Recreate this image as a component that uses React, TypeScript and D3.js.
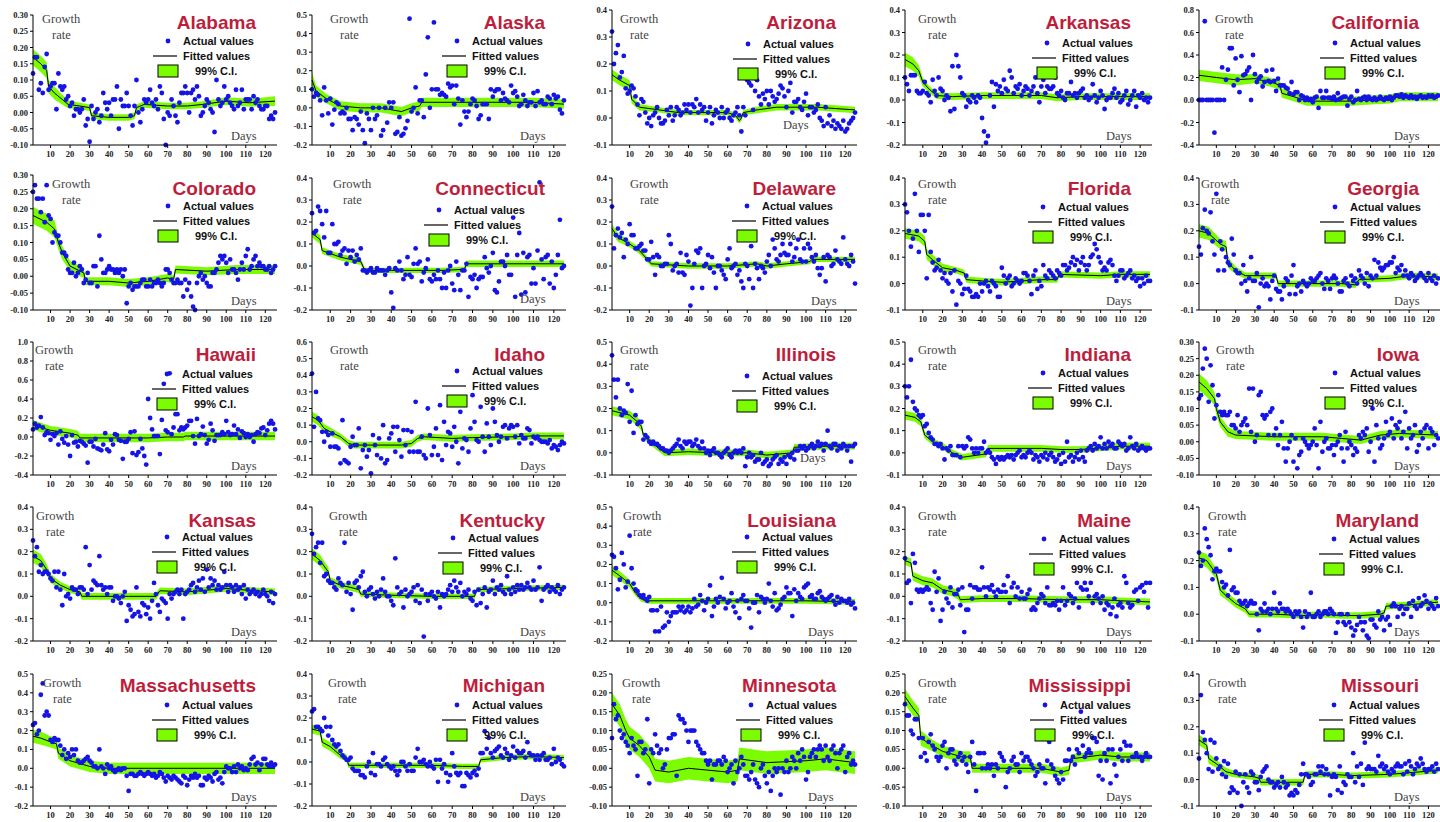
import React from "react";
import * as d3 from "d3";

// growth rate values are stored x100 (percent points), day 1..125
const days = d3.range(1, 126);
const xTicks = [10, 20, 30, 40, 50, 60, 70, 80, 90, 100, 110, 120];

// fitted knots: [day, fitted value, half width of 99% C.I.]  (x100)
type Knot = [number, number, number];

const alabamaActual = [
  12, 17, 17, 7, 9, 6, 14, 18, 7, 8,
  9, 9, 1, 12, 8, 7, 8, 4, 5, 2,
  3, -1, 1, 1, 0, 1, 4, -4, -2, -9,
  2, -2, 0, 1, -3, -1, 6, 3, 1, 3,
  -1, 4, 4, 8, -5, 4, 2, 2, 6, 2,
  -1, -4, 2, 10, 0, -3, 1, 4, 3, 4,
  7, 3, 2, 4, 1, 8, 6, -2, -10, 0,
  -1, 4, 2, -1, -3, 3, 6, 6, 8, 6,
  0, 6, 7, 4, 8, 5, -1, 0, 2, 4,
  3, 1, 0, -6, 10, 4, 2, 3, 8, 4,
  5, 3, 2, 1, 7, 2, 3, 7, 1, 4,
  4, 4, 1, 5, 3, 4, 2, 1, 1, 2,
  2, -2, -1, -2, 0,
];
const alabamaFit: Knot[] = [[1, 17, 2.5], [5, 15, 2.5], [8, 13, 2.5], [9, 8, 2], [12, 6, 2], [16, 4, 1.5], [19, 2.5, 1.2], [25, 2, 1], [30, 1.5, 1], [31, -1, 1], [40, -1.5, 1], [50, -1.5, 1], [53, -1, 1], [54, 1.5, 1], [58, 2.5, 1], [70, 2, 1], [80, 2, 1], [88, 2.5, 1], [100, 3.5, 1.2], [112, 3, 1.2], [125, 3.5, 1.5]];

const alaskaActual = [
  10, 6, 8, 7, 4, -4, 11, 4, -3, 5,
  -9, -1, 3, 2, -3, -2, -3, 0, -6, -6,
  -12, -5, -6, -9, -2, -12, -19, -3, -6, -12,
  0, -6, -4, 0, -15, -12, 0, -8, 3, 0,
  3, -14, -13, -5, -15, -14, -11, -7, 48, -2,
  0, 11, -3, 4, 4, -5, 18, 38, 0, 10,
  46, 10, 10, 7, 8, 7, 6, 13, 11, 12,
  2, 12, 5, -9, 4, -2, -5, -2, 2, 5,
  4, 1, -6, -4, 2, 2, 2, -6, 10, 6,
  9, 10, 10, 4, 8, 5, 4, 3, 12, 8,
  9, 6, 1, 2, 7, 4, 1, 3, 3, 8,
  1, 9, 3, 4, 2, 2, 6, 5, 2, 7,
  5, 6, -1, -3, 4,
];
const alaskaFit: Knot[] = [[1, 15, 4], [3, 9, 3], [8, 5, 2.5], [15, 1, 2.5], [25, 0, 2.5], [35, 0, 2.5], [45, -2, 2.5], [50, 0, 2.5], [54, 1, 2.5], [55, 3, 2.5], [70, 3, 2.5], [90, 3, 2.5], [110, 3, 2.5], [125, 2, 2.5]];

const arizonaActual = [
  32, 20, 24, 27, 15, 17, 23, 11, 9, 10,
  12, 11, 8, 5, 1, 7, 6, 2, -2, 0,
  -3, 1, 2, 4, 0, -2, -2, -1, 3, 1,
  4, -1, 1, 4, 3, 1, 2, 5, 3, 5,
  2, 5, 4, 7, 2, 5, 3, 4, -1, 2,
  4, -2, 1, 3, 2, 0, 4, 0, 2, 3,
  0, -1, 1, 2, 4, 1, -5, 4, 1, 14,
  13, 12, 3, 10, 14, 8, 5, 9, 7, 10,
  5, 10, 8, 6, 7, 9, 12, 11, 8, 4,
  10, 13, 2, 6, 6, 7, 4, 3, 6, 9,
  1, 4, 4, 2, 3, 5, 0, -1, -3, 4,
  -2, 1, -3, -1, -4, -2, -3, -4, -1, -5,
  -4, -2, -1, 0, 2,
];
const arizonaFit: Knot[] = [[1, 16, 2], [5, 14, 2], [10, 12, 2], [11, 7, 1.5], [15, 4, 1.2], [25, 3, 1], [35, 2, 1], [50, 2, 1], [60, 2, 1], [64, 1, 1], [66, -1, 1], [67, 0, 1], [68, 2, 1], [75, 3, 1.2], [85, 4, 1.2], [100, 4, 1.2], [106, 4, 1.2], [115, 3.5, 1.2], [125, 3, 1.2]];

const arkansasActual = [
  10, 7, 4, 11, 11, 11, 4, 3, 3, 4,
  8, 3, 2, -1, 9, 4, 2, 10, 5, 4,
  0, 2, 1, -5, 15, -4, 20, 15, 10, 3,
  2, -3, 0, -1, 2, 1, -1, 2, 1, -8,
  -14, -19, -16, 2, 8, -3, 7, 4, 6, 3,
  9, 5, 4, 13, 10, 3, 6, 5, 7, 2,
  4, 6, 5, 2, 4, 6, 10, 3, -1, 6,
  9, 3, 6, 5, 5, 6, 10, 3, 2, 4,
  1, 0, 3, 3, 8, 2, 3, 1, 3, 4,
  5, 1, 2, 0, 1, 7, 2, -1, 1, 4,
  2, -4, 0, 1, 1, 3, 5, 1, 3, -1,
  0, 2, 4, -2, 0, 2, 4, -3, 2, 1,
  3, 0, 1, -1, 1,
];
const arkansasFit: Knot[] = [[1, 18, 3], [5, 16, 3], [8, 13, 2.5], [10, 8, 2], [13, 5, 1.5], [17, 2, 1.5], [25, 1.5, 1.5], [40, 2, 1.5], [55, 2, 1.5], [70, 2, 1.5], [78, 1, 1.5], [90, 1.5, 1.5], [110, 1.5, 1.5], [125, 1.5, 1.5]];

const californiaActual = [
  0, 0, 0, 70, 0, 0, 0, 0, -29, 0,
  0, 0, 29, 0, 18, 27, 46, 46, 13, 37,
  18, 7, 39, 22, 23, 26, 29, 0, 40, 23,
  16, 19, 21, 12, 16, 26, 17, 16, 27, 17,
  8, 19, 13, 13, 13, 11, 10, 6, 16, 5,
  7, 7, 0, 4, 3, 0, 2, 0, 1, -2,
  2, 3, -7, 8, 2, 2, 8, 2, 2, 1,
  3, 0, 6, 1, 2, 3, 3, -5, 1, 3,
  -2, 0, 8, 1, 0, 2, 3, 0, 3, 1,
  0, 2, 0, 1, 3, 1, 0, 2, 1, 3,
  0, 2, 4, 4, 3, 5, 2, 4, 3, 2,
  4, 2, 3, 1, 3, 4, 2, 3, 2, 4,
  3, 4, 2, 3, 4,
];
const californiaFit: Knot[] = [[1, 22, 5], [10, 20, 5], [20, 18, 5], [30, 19, 4], [40, 15, 4], [43, 13, 4], [44, 6, 4], [50, 3, 4], [57, -1, 4], [70, -1, 4], [80, -1, 4], [90, 0, 4], [100, 1, 4], [105, 3, 4], [125, 3, 4]];

const coloradoActual = [
  25, 27, 23, 23, 19, 23, 16, 27, 18, 17,
  10, 13, 12, 12, 10, 7, 7, 6, 2, 1,
  1, 4, 0, 1, 3, 2, -2, -1, 1, -2,
  -2, 3, 3, -3, 12, 5, 1, 1, 2, 3,
  2, 2, 1, 2, 1, 2, 0, 2, -8, -3,
  -2, -4, -3, -3, -3, -2, -1, -1, -3, -3,
  -1, -3, -2, -2, -1, -2, -3, -2, 2, 2,
  1, -1, -2, -2, -1, -2, -2, -6, -1, -4,
  -2, -6, -9, -10, -2, 0, 1, -1, 0, -2,
  -3, -3, 1, 1, 2, 4, 6, 5, 6, 4,
  1, 5, 2, 2, 1, -1, 2, 4, 2, 6,
  8, 2, 3, 5, 6, 3, 4, 3, 3, 2,
  2, 3, 1, 2, 3,
];
const coloradoFit: Knot[] = [[1, 18, 2.5], [8, 16, 2.5], [12, 14, 2.5], [14, 10, 2], [16, 7, 2], [20, 3, 1.5], [27, 1, 1.5], [28, -1.5, 1.2], [40, -1.5, 1.2], [50, -2, 1.2], [60, -1.5, 1.2], [70, -0.5, 1.2], [73, -1, 1.2], [74, 2, 1.2], [90, 1.5, 1.2], [105, 2, 1.3], [125, 2, 1.3]];

const connecticutActual = [
  24, 15, 16, 27, 25, 19, 13, 25, 6, 6,
  19, 10, 10, 11, 5, 7, 8, 1, 7, 4,
  7, 2, 5, 3, 8, -2, -2, -3, -2, -1,
  -3, -3, -1, -2, -2, -2, -4, -2, -1, -12,
  -19, -1, -2, 2, -2, -6, -4, 4, -4, -5,
  1, 8, 1, 2, -7, -3, -1, 3, -6, -7,
  -4, -6, -2, -6, -10, -3, -10, -2, 0, -8,
  -11, 2, -4, -11, -2, -2, 1, -14, -5, -6,
  -4, -10, -6, -5, -5, 4, -1, -3, 0, 6,
  -11, -12, -7, 2, 2, 0, 5, -4, -4, 22,
  -14, 5, 15, -13, 6, -12, 4, 5, -8, -1,
  -8, 7, 38, 3, -6, 4, 5, -8, 2, -10,
  -4, 5, 21, -1, 0,
];
const connecticutFit: Knot[] = [[1, 15, 2], [5, 12, 2], [6, 7, 1.5], [15, 4, 1.5], [25, 2, 1.5], [27, -2, 1.2], [40, -2, 1.2], [55, -2, 1.2], [65, -2, 1.2], [76, -1.5, 1.2], [77, 1, 1.5], [90, 1, 1.5], [105, 1, 1.5], [125, 1, 1.5]];

const delawareActual = [
  27, 8, 14, 17, 13, 15, 4, 12, 10, 19,
  14, 14, 8, 8, 9, 10, 7, 7, 3, 3,
  11, 4, -4, 5, 4, 0, 0, 1, 1, 14,
  10, -2, 0, 1, -3, 6, -3, -4, 5, 2,
  -18, -10, 1, 7, 6, 8, -10, 0, 1, 5,
  -1, 4, -3, -10, 0, 0, -2, -4, -6, 3,
  8, -1, 0, 1, -4, -2, -7, -10, 1, 0,
  -6, 9, -10, 1, -1, -6, 0, -1, -3, 2,
  5, 0, 12, 8, 3, 2, 5, 10, 6, 5,
  5, 10, 2, 4, 8, 12, 3, 2, 8, 2,
  10, 8, 4, 2, 5, -1, -4, -1, 4, -7,
  5, 4, 0, 1, 7, 3, 2, 1, 13, 3,
  1, 0, 5, 2, -8,
];
const delawareFit: Knot[] = [[1, 17, 2], [4, 13, 2], [10, 10, 1.5], [15, 7, 1.5], [20, 2, 1.2], [21, 1, 1.2], [40, 0, 1.2], [60, 0, 1.2], [75, 1, 1.2], [80, 0, 1.2], [90, 1, 1.2], [102, 2, 1.2], [103, 3, 1.2], [115, 3, 1.2], [125, 3, 1.2]];

const floridaActual = [
  30, 27, 20, 14, 17, 34, 20, 12, 26, 26,
  20, 2, 26, 12, 8, 5, 6, 9, 5, 2,
  4, 1, 0, 4, -3, 5, -8, 1, 0, -4,
  -2, 3, -2, -3, -5, -5, -4, -5, 0, -3,
  0, 1, -1, -3, 1, 0, -1, -5, -5, 6,
  3, 0, 2, 3, -1, 0, 2, 1, 0, 1,
  4, 4, 3, 1, -4, 3, 5, -2, 1, -1,
  7, 3, 2, 5, 4, 3, 2, 5, 4, 3,
  7, 7, 5, 6, 8, 10, 7, 9, 5, 8,
  10, 7, 5, 7, 10, 11, 15, 13, 10, 8,
  5, 6, 5, 8, 9, 7, 3, 1, 3, 5,
  5, 2, 3, 4, 5, 2, 3, 1, 2, -1,
  2, 0, 3, 1, 1,
];
const floridaFit: Knot[] = [[1, 19, 2], [8, 18, 2], [11, 16, 2], [12, 11, 2], [15, 9, 2], [20, 6, 1.5], [27, 5, 1.2], [31, 4, 1.2], [32, 1.5, 1.2], [40, 1, 1.2], [50, 0.5, 1.2], [60, 1, 1.2], [70, 1.5, 1.2], [78, 1.5, 1.2], [79, 3.5, 1.2], [100, 3, 1.2], [110, 3.5, 1.2], [125, 3.5, 1.2]];

const georgiaActual = [
  14, 11, 21, 28, 20, 19, 27, 16, 11, 34,
  5, 16, 13, 5, 10, 8, 7, 17, 11, 5,
  4, 4, 0, 7, 1, -3, 2, 10, 1, 1,
  4, -9, 0, 2, -1, 0, -1, -6, 1, 3,
  -2, -3, -3, -6, -1, 2, 1, -4, 3, 7,
  -4, -1, 0, -3, 1, 0, -1, 0, 2, 1,
  1, 2, 3, 4, 0, -2, 2, 1, -2, 2,
  3, 2, 0, -3, -3, 1, 2, 0, -1, 3,
  1, 2, 0, 5, 3, 2, 0, 4, -1, 3,
  2, 9, 3, 8, 6, 5, 6, 7, 7, 8,
  8, 10, 4, 6, 5, 7, 3, 5, 3, 2,
  4, 3, 1, 2, 3, 4, 3, 2, 1, 4,
  2, 1, 3, 0, 2,
];
const georgiaFit: Knot[] = [[1, 20, 2.5], [6, 19, 2.5], [12, 15, 2], [15, 14, 2], [16, 8, 2], [20, 5, 1.5], [25, 3, 1.2], [35, 3, 1.2], [41, 3, 1.2], [42, 0, 1.2], [60, 0, 1.2], [75, 0, 1.2], [82, -0.5, 1.2], [84, 1.5, 1.2], [100, 2, 1.2], [110, 3, 1.2], [125, 2.5, 1.2]];

const hawaiiActual = [
  8, 14, 10, 12, 21, 10, 2, 5, 4, -3,
  3, 1, 4, -8, 6, -2, -6, 1, -8, -20,
  2, -6, -5, -10, -4, -5, -7, -9, -27, -5,
  -5, -10, -2, -12, -13, -14, -8, 4, -13, -15,
  -3, -8, 3, 2, -3, -4, -23, -5, -5, -2,
  5, -17, 6, -19, -16, -2, -12, -20, -29, 40,
  20, 8, 1, 1, 1, -18, 18, 56, 7, 5,
  67, 3, 10, 24, 24, 7, 10, 8, 10, 12,
  17, 17, 1, -7, 19, 1, 3, 11, 2, -7,
  -3, 14, 7, -4, 2, 2, 2, 5, 3, 17,
  5, 2, 3, 12, 3, 8, -1, 6, 4, 0,
  3, 0, 2, -5, 3, 5, 4, 9, 10, 2,
  7, 14, 17, 14, 8,
];
const hawaiiFit: Knot[] = [[1, 13, 5], [5, 10, 5], [10, 7, 4.5], [20, 4, 4.5], [24, 2, 4.5], [25, -1, 4.5], [40, -1, 4.5], [60, -1, 4.5], [70, 0, 4.5], [78, 0, 4.5], [79, 1, 4.5], [90, 1, 4.5], [110, 1, 4.5], [125, 1, 4.5]];

const idahoActual = [
  41, 9, 30, 14, 13, 6, 0, 6, 4, -3,
  5, -3, -3, -4, -13, 13, -11, -12, -13, -3,
  3, -2, -2, 8, -16, -5, -2, -9, -5, -19,
  4, -2, -8, 2, -10, 10, -13, -11, 2, 5,
  9, -6, 9, 1, -9, 7, -2, 7, -6, 6,
  -6, 24, -6, -6, 3, -8, -10, 20, 4, -8,
  -3, 8, -8, 22, -11, 12, -2, 6, 5, -3,
  9, 0, -13, 18, -4, 2, 1, -6, 8, 28,
  12, 1, 0, 21, 3, -6, 11, 3, -2, 20,
  12, 4, 0, 3, 9, 10, 2, 8, 10, 9,
  3, 10, -1, 4, 2, 2, 8, 7, -1, 3,
  2, 3, 1, 0, 0, 0, -1, 1, -4, -2,
  -3, -5, -2, 0, -1,
];
const idahoFit: Knot[] = [[1, 15, 3], [4, 13, 3], [7, 8, 2.5], [10, 6, 2.5], [15, 3, 2], [19, -1, 2], [22, -2, 2], [35, -2, 2], [45, -2, 2], [50, -1, 2], [53, 2, 2], [56, 3, 2], [70, 2, 2], [80, 2.5, 2], [100, 3, 2], [110, 3.5, 2], [125, 3.5, 2]];

const illinoisActual = [
  44, 33, 25, 33, 20, 17, 19, 18, 31, 14,
  28, 9, 17, 13, 14, 14, 6, 8, 7, 5,
  4, 5, 4, 4, 3, 2, 2, 1, 1, 0,
  1, 2, 3, 4, 6, 3, 2, 5, 4, 5,
  5, 3, 4, 6, 3, 2, 5, 2, 0, 1,
  -1, 1, 2, 0, 0, -1, -2, 0, 1, 2,
  -1, -2, 0, 1, 0, 1, 0, 2, -6, -2,
  0, -2, -1, -4, -3, -3, 0, -5, -4, -3,
  -6, -5, -3, -2, -1, -5, -3, -4, -2, -5,
  -1, -2, 0, -3, 1, 1, 3, 2, 3, 1,
  2, 3, 4, 2, 3, 5, 3, 4, 1, 4,
  10, 3, 2, 4, 4, 1, 3, 2, 4, 3,
  1, 3, -4, 3, 4,
];
const illinoisFit: Knot[] = [[1, 19, 2], [10, 17, 2], [14, 14, 2], [16, 12, 2], [17, 8, 1.5], [22, 4, 1.5], [28, 0, 1.5], [40, 0.5, 1.5], [55, 0, 1.5], [70, 0, 1.5], [80, -1, 1.5], [93, 0, 1.5], [94, 2.5, 1.5], [110, 3, 1.5], [125, 3, 1.5]];

const indianaActual = [
  30, 25, 30, 42, 23, 20, 19, 17, 16, 17,
  12, 13, 9, 7, 6, 4, 4, 3, 4, 2,
  -3, 2, 1, 3, -1, -1, -1, 3, -2, 3,
  2, 3, 7, 6, 2, 0, 2, 0, 2, 2,
  5, 0, 1, 0, -2, -3, -5, -2, -3, -2,
  -3, -2, -1, -2, -1, -3, -1, 0, 1, -2,
  -1, -2, 0, 1, 0, -3, -1, -2, -4, -1,
  -2, 0, -3, -1, 0, -2, -4, -3, -1, -5,
  0, -4, 5, -2, -1, -4, -2, 0, -3, 1,
  -2, -4, 1, 2, 3, 1, 4, 2, 3, 7,
  2, 4, 2, 5, 3, 4, 2, 2, 5, 4,
  3, 4, 1, 2, 7, 3, 2, 4, 1, 2,
  3, 2, 1, 2, 2,
];
const indianaFit: Knot[] = [[1, 17, 2], [6, 16, 2], [9, 14, 2], [11, 8, 1.5], [15, 5, 1.5], [20, 3, 1.5], [25, 0, 1.5], [30, -2, 1.5], [42, -0.5, 1.5], [43, 2, 1.5], [60, 2, 1.5], [70, 2, 1.5], [80, 1.5, 1.5], [90, 1.5, 1.5], [110, 3, 1.5], [125, 3, 1.5]];

const iowaActual = [
  13, 14, 22, 28, 25, 12, 23, 17, 7, 11,
  14, 9, 8, 9, 8, 8, 9, 5, 5, 4,
  8, 3, 5, 6, 7, 5, 16, 3, 16, 0,
  2, 14, 15, 8, 7, 8, 2, 9, 10, 2,
  4, -1, 2, 6, -2, -6, -2, 0, 2, -6,
  1, -8, -4, -3, 1, 0, -1, -2, -1, 0,
  4, -1, -8, 6, -3, 0, 1, -2, -2, -1,
  -4, -1, 0, 2, -2, -6, 3, -2, 0, -1,
  -4, -2, -3, 2, 1, 3, 2, 4, -3, 0,
  10, -6, 5, 1, -2, -1, 1, 6, 2, 3,
  7, 1, 5, 4, 6, 1, 3, 9, -2, 4,
  1, 2, 5, -3, -1, 3, 1, 4, 5, -2,
  4, 3, -1, 2, 1,
];
const iowaFit: Knot[] = [[1, 18, 2.5], [5, 16, 2.5], [9, 13, 2], [10, 10, 2], [12, 6, 1.5], [16, 3, 1.5], [20, 2, 1.2], [40, 1.5, 1.2], [50, 1.5, 1.2], [65, 1.5, 1.2], [75, 1, 1.2], [85, 0.5, 1.2], [95, 2, 1.2], [105, 2.5, 1.2], [125, 2, 1.2]];

const kansasActual = [
  25, 18, 22, 11, 14, 10, 11, 11, 10, 8,
  7, 11, 4, 11, 3, -4, 10, 0, 1, -1,
  4, 3, 3, 1, 4, 4, 3, 22, 1, 14,
  3, 7, 6, 5, 18, 5, 3, 4, 1, 4,
  4, -2, 0, 0, -1, -3, 0, 2, -11, -4,
  -6, -9, -8, 4, -7, -9, -3, -4, -8, -5,
  -10, -2, 6, 1, -4, -7, -1, -2, -3, -10,
  1, -1, 1, 2, 3, 1, 3, -10, 1, 2,
  3, 5, 6, 2, 4, 7, 3, 8, 2, 12,
  4, 8, 5, 7, 3, 5, 3, 4, 11, 5,
  2, 5, 4, 2, 5, 3, 4, 1, 5, -1,
  3, 1, 2, 3, 1, 2, 0, 1, 3, 1,
  0, -2, 2, -3, 1,
];
const kansasFit: Knot[] = [[1, 18, 3], [5, 16, 3], [8, 12, 2.5], [10, 8, 2], [15, 5, 1.5], [20, 3, 1.5], [25, 2, 1.5], [26, 0, 1.5], [35, 0, 1.5], [50, 0, 1.5], [64, 0, 1.5], [66, 2.5, 1.5], [80, 2, 1.5], [100, 3.5, 1.5], [115, 2.5, 1.5], [125, 2, 1.5]];

const kentuckyActual = [
  28, 19, 22, 24, 15, 24, 9, 10, 7, 6,
  6, 4, 3, 8, 6, 5, 24, 2, 6, 1,
  -6, 6, 7, 4, 9, 11, 2, 0, 3, 4,
  1, -1, 2, 0, 3, 8, 2, 0, 0, -2,
  -4, 17, 4, 1, 2, -5, 3, 0, 1, 2,
  4, -2, 5, -3, 3, -18, 1, -2, 1, 2,
  0, -1, 2, -5, 1, 0, 1, 3, 5, 2,
  7, 4, 2, 6, 0, 2, 1, 3, -1, -2,
  2, -4, 3, -3, 1, 4, -5, 2, 3, 7,
  1, 4, 3, 5, 2, 1, 9, 3, 1, 4,
  2, 5, 3, 5, 3, 4, 6, 4, 3, 7,
  3, 4, 13, -2, 3, 4, 5, 2, 4, 3,
  2, 5, 1, 3, 4,
];
const kentuckyFit: Knot[] = [[1, 19, 2.5], [5, 16, 2.5], [9, 11, 2], [10, 7, 1.5], [15, 5, 1.5], [20, 4, 1.5], [24, 3, 1.5], [25, 1, 1.2], [40, 0.5, 1.2], [60, 0, 1.2], [75, 0, 1.2], [81, 0, 1.2], [82, 3, 1.2], [100, 3.5, 1.2], [125, 4, 1.2]];

const louisianaActual = [
  25, 24, 18, 7, 12, 26, 20, 8, 11, 35,
  18, 10, 7, 6, 4, 3, 4, 2, 1, 3,
  -4, -4, -15, -4, -15, -2, -13, -12, -5, -10,
  -7, -5, -5, -5, -2, -4, -2, -5, -4, -2,
  -5, -3, 2, -2, -1, 4, 1, -4, 0, 2,
  9, -7, -2, 2, 0, 3, 13, 2, -3, 0,
  1, 5, -2, -5, 1, -8, 2, 4, 1, 1,
  -3, -13, 0, 0, 4, -5, 3, 2, 0, 2,
  10, 1, -2, 5, -4, -3, -1, 2, 3, 8,
  5, 5, -7, 7, 1, 5, 3, 2, 8, 9,
  10, 3, 4, 2, 2, 5, 6, 3, 2, 1,
  2, 3, 4, 1, -1, 3, 0, 2, 1, 1,
  0, 2, -1, 0, -3,
];
const louisianaFit: Knot[] = [[1, 17, 2.5], [5, 14, 2.5], [10, 10, 2], [13, 5, 1.5], [16, 2, 1.5], [20, 1, 1.5], [40, 1, 1.5], [60, 1, 1.5], [80, 1, 1.5], [100, 1, 1.5], [125, 0.5, 1.5]];

const maineActual = [
  17, 6, 7, -3, 19, 15, 3, 2, 3, 2,
  3, 4, 3, -3, -6, 11, 2, 8, -11, -6,
  2, -1, -3, 4, -5, 1, 1, 3, -4, 4,
  -16, -6, -6, 5, -1, 4, 4, 3, 3, 13,
  4, 0, 4, 3, 5, 2, 0, 3, 2, 2,
  5, 2, 9, -3, 4, 6, 0, 4, -1, 2,
  -1, -1, 1, 3, -6, -5, -6, -3, -1, 1,
  0, -3, 4, -4, -4, -3, -4, -2, -6, -2,
  4, -4, -2, 1, 0, -3, -1, 6, -5, 4,
  3, 6, 3, 0, 6, -3, 0, 1, -1, -3,
  0, -6, -3, -4, -8, -5, -1, -9, -4, -3,
  -5, 9, 6, -3, -5, -4, 2, 3, -2, 4,
  5, 2, 6, -5, 6,
];
const maineFit: Knot[] = [[1, 16, 2], [4, 15, 2], [5, 9, 2], [10, 7, 2], [15, 6, 2], [20, 3, 2], [25, 2, 2], [28, 0.5, 2], [29, -1.5, 1.5], [40, -1, 1.5], [60, -1, 1.5], [80, -1.5, 1.5], [100, -1.5, 1.5], [110, -2, 1.5], [125, -2.5, 1.5]];

const marylandActual = [
  23, 18, 20, 32, 28, 25, 22, 13, 16, 17,
  16, 16, 12, 10, 11, 7, 24, 9, 10, 8,
  8, 5, 4, 4, 5, 3, 4, 5, 4, 4,
  0, -6, 2, 1, 4, 1, 2, 0, 2, 8,
  2, 1, 4, 2, 2, 1, 2, 1, 0, -1,
  1, 0, 1, -1, -5, 1, -1, 0, 8, -1,
  -1, 0, 1, -1, 0, 1, 1, 0, 2, 1,
  0, -7, -3, 0, 0, -3, -4, 0, -3, -5,
  -8, -6, -4, -1, -3, -6, -3, -8, -9, -2,
  -2, -4, -5, 1, -2, -1, -6, -2, -1, -4,
  3, 4, 3, -1, 2, 3, 0, 2, 2, 4,
  -1, 5, 3, 2, 6, 3, 4, 7, 5, 2,
  4, 3, 2, 6, 3,
];
const marylandFit: Knot[] = [[1, 21, 2.5], [5, 20, 2.5], [10, 15, 2], [12, 9, 2], [15, 7, 1.5], [20, 4, 1.5], [25, 2, 1.5], [27, 0, 1.2], [40, 0, 1.2], [55, -0.5, 1.2], [65, 0, 1.2], [75, -0.5, 1.2], [85, -0.5, 1.2], [95, 0, 1.2], [97, 0.5, 1.2], [98, 3, 1.2], [110, 3.5, 1.2], [125, 4.5, 1.2]];

const massachusettsActual = [
  23, 24, 18, 20, 39, 45, 28, 30, 28, 15,
  14, 16, 15, 15, 12, 7, 10, 5, 8, 6,
  10, 7, 10, 4, 3, 3, 4, 5, 6, 4,
  3, 1, 1, 0, 10, 1, 0, -3, 2, 0,
  1, -1, -2, -1, 0, -1, 0, 0, -4, -12,
  -3, -3, -4, -4, -3, -2, -3, -4, -3, -2,
  -3, -4, -3, -5, -4, -2, -3, -5, -7, -4,
  -5, -6, -4, -5, -6, -7, -8, -4, -5, -9,
  -6, -4, -5, -3, -5, -4, -9, -9, -5, -6,
  -4, -5, -7, -3, -2, -6, -5, -8, -2, 1,
  0, 0, -2, 1, -2, 2, 0, 1, -1, 0,
  -1, 2, 5, 6, 2, 3, -1, 2, 5, 5,
  2, 1, 3, 1, 2,
];
const massachusettsFit: Knot[] = [[1, 17, 3.5], [5, 16, 3.5], [10, 14, 3], [13, 13, 3], [14, 8, 3], [20, 4, 3], [30, 1, 3], [40, 0, 3], [60, 0, 3], [80, 0, 3], [100, 0, 3], [125, 0, 3]];

const michiganActual = [
  23, 24, 16, 16, 15, 14, 20, 16, 12, 16,
  10, 8, 7, 8, 5, 3, 2, 1, 1, 2,
  -3, -4, -4, -4, -6, -6, -7, -2, 0, -5,
  4, -6, -1, -1, -2, 1, 2, -1, -2, -3,
  -2, -4, -6, -4, 0, 0, -2, -4, -1, -4,
  -4, 2, 6, 0, 0, 1, -1, -2, 0, -2,
  -3, 1, -9, 1, -3, -1, -5, -9, -6, 4,
  -2, -5, -6, -5, -11, -11, -5, -6, -7, -5,
  -4, -6, -3, 4, 4, 14, 6, 11, 4, 2,
  5, 6, 7, 3, 2, 6, 4, 1, 3, 7,
  2, 5, 4, 4, 5, 2, 9, 4, 3, 3,
  1, 3, 1, 3, 4, 1, 1, 2, -1, 6,
  0, 2, 1, -1, -2,
];
const michiganFit: Knot[] = [[1, 15, 2], [5, 14, 2], [6, 9, 2], [10, 7, 2], [15, 3, 1.5], [18, 2, 1.5], [19, -1.5, 1.2], [40, -1.5, 1.2], [60, -1.5, 1.2], [75, -2, 1.2], [83, -2, 1.2], [84, 1, 1.2], [95, 2, 1.2], [110, 2.5, 1.2], [125, 2, 1.2]];

const minnesotaActual = [
  8, 17, 13, 14, 10, 8, 9, 7, 6, 4,
  8, 6, 5, -2, 7, 7, 4, 5, 13, -4,
  5, 4, 9, 6, 4, 5, 0, 1, 5, 8,
  8, 9, 9, -2, 14, 13, 13, 12, 10, 7,
  10, 10, 10, 7, 6, 5, 4, 4, 2, 1,
  2, -3, 1, 1, 2, 2, 1, 3, 2, -1,
  0, 1, -4, 2, -1, 0, 3, 1, -2, -2,
  -3, -1, 1, -3, -4, -5, 0, 1, -2, -4,
  -1, -6, -2, 0, -1, 0, -7, 0, -1, 2,
  -1, 0, 3, 2, 0, 4, 2, 5, 3, -3,
  -1, 3, 4, 5, 3, 5, 6, 5, 2, 6,
  3, 2, 5, 6, 4, 0, 4, 5, 6, -1,
  3, 4, 1, 2, 1,
];
const minnesotaFit: Knot[] = [[1, 17, 3], [5, 14, 3], [8, 10, 3], [10, 8, 3], [15, 6, 3], [20, 3, 3], [23, -0.5, 3], [30, -1, 3], [40, 0, 3], [50, -0.5, 3], [60, -1, 3], [65, -0.5, 3], [66, 2.5, 3], [80, 1.5, 3], [100, 2, 3], [110, 2.5, 3], [125, 1.5, 3]];

const mississippiActual = [
  17, 14, 14, 10, 9, 13, 13, 8, 3, 8,
  4, 2, 7, 9, 6, 5, 3, 2, 3, 6,
  7, 0, 4, 5, 5, 2, 1, 3, 4, 2,
  3, 1, -1, 3, 7, 1, -6, 4, 4, 0,
  4, 0, 1, 0, 1, -2, 1, 0, 4, 3,
  2, -5, -1, 0, 2, 3, 1, 1, -1, 4,
  2, 3, 3, 2, 1, 0, -2, -1, 1, 0,
  0, -4, 2, 7, 1, 0, -2, -3, -4, -1,
  -3, 2, 2, 5, 2, 3, 1, 5, 4, 15,
  6, 3, 4, 5, 4, 8, 8, 7, -2, 2,
  -3, 4, 2, 5, -4, 5, 1, -2, 3, 5,
  2, 7, 6, 2, 6, 3, 3, 4, 3, 3,
  2, 3, 4, 3, 3,
];
const mississippiFit: Knot[] = [[1, 19, 2], [5, 16, 2], [8, 14, 2], [9, 8, 2], [15, 6, 1.5], [20, 4.5, 1.5], [30, 3, 1.5], [34, 3, 1.5], [35, 0, 1.2], [50, 0, 1.2], [70, 0, 1.2], [80, -1, 1.2], [84, -0.5, 1.2], [85, 2.5, 1.2], [100, 3.5, 1.2], [110, 3, 1.2], [125, 3, 1.2]];

const missouriActual = [
  8, 32, 18, 15, 10, 4, 15, 3, 14, 8,
  4, 5, 2, 7, 1, 6, -5, -3, -4, 3,
  -5, 2, -10, -1, 2, -3, -5, 3, 2, -1,
  -1, -4, 1, 3, 4, 5, 0, -1, -1, -3,
  -2, -1, -3, 1, -1, -3, -2, -6, -5, -6,
  -4, -5, -2, 2, 6, 2, 2, 1, -2, -1,
  2, 2, 5, 3, 5, 2, 4, 2, -6, 1,
  2, 1, -4, 5, -5, -1, -2, 2, 1, 1,
  10, -1, 5, 1, 6, -2, 14, 4, 5, 4,
  4, 4, 3, 9, 5, 6, 4, 5, 3, 2,
  4, 3, 5, 6, 5, 5, 2, 6, 3, 7,
  5, 2, 4, 6, 5, 8, 6, 4, 3, 4,
  4, 5, 3, 6, 4,
];
const missouriFit: Knot[] = [[1, 15, 2], [5, 13, 2], [6, 8, 2], [10, 6, 1.5], [15, 3, 1.5], [20, 2, 1.2], [30, 1, 1.2], [32, 0.5, 1.2], [33, -1, 1.2], [45, -1, 1.2], [55, -1, 1.2], [56, 2, 1.2], [70, 2, 1.2], [80, 1.5, 1.2], [100, 2, 1.2], [125, 3.5, 1.2]];

// grid layout
const colL = [33, 312, 612, 905, 1199];
const colR = [277, 566, 857, 1152, 1440];
const rowY0 = [0, 165, 330, 495, 660];
const rowBottom = [145, 310, 475, 641, 806];
const growthDy = [19, 19, 20, 21, 23];
const nameDy = [22, 23, 24, 25, 25];

type Panel = {
  name: string; actual: number[]; fit: Knot[];
  lo: number; hi: number; step: number; dec: number;
  col: number; row: number; top: number;
  gx: number; lx: number; ly: number; dx?: number; dy?: number;
};

const panels: Panel[] = [
  { name: "Alabama", actual: alabamaActual, fit: alabamaFit, lo: -0.1, hi: 0.3, step: 0.05, dec: 2, col: 0, row: 0, top: 15, gx: 9, lx: 94, ly: 41 },
  { name: "Alaska", actual: alaskaActual, fit: alaskaFit, lo: -0.2, hi: 0.5, step: 0.1, dec: 1, col: 1, row: 0, top: 15, gx: 18, lx: 94, ly: 41 },
  { name: "Arizona", actual: arizonaActual, fit: arizonaFit, lo: -0.1, hi: 0.4, step: 0.1, dec: 1, col: 2, row: 0, top: 10, gx: 8, lx: 94, ly: 44, dx: 74, dy: 11 },
  { name: "Arkansas", actual: arkansasActual, fit: arkansasFit, lo: -0.2, hi: 0.4, step: 0.1, dec: 1, col: 3, row: 0, top: 10, gx: 13, lx: 90, ly: 43 },
  { name: "California", actual: californiaActual, fit: californiaFit, lo: -0.4, hi: 0.8, step: 0.2, dec: 1, col: 4, row: 0, top: 10, gx: 16, lx: 90, ly: 43 },
  { name: "Colorado", actual: coloradoActual, fit: coloradoFit, lo: -0.1, hi: 0.3, step: 0.05, dec: 2, col: 0, row: 1, top: 175, gx: 19, lx: 94, ly: 41 },
  { name: "Connecticut", actual: connecticutActual, fit: connecticutFit, lo: -0.2, hi: 0.4, step: 0.1, dec: 1, col: 1, row: 1, top: 178, gx: 21, lx: 112, ly: 45, dy: 2 },
  { name: "Delaware", actual: delawareActual, fit: delawareFit, lo: -0.2, hi: 0.4, step: 0.1, dec: 1, col: 2, row: 1, top: 178, gx: 18, lx: 95, ly: 41 },
  { name: "Florida", actual: floridaActual, fit: floridaFit, lo: -0.1, hi: 0.4, step: 0.1, dec: 1, col: 3, row: 1, top: 178, gx: 13, lx: 94, ly: 42 },
  { name: "Georgia", actual: georgiaActual, fit: georgiaFit, lo: -0.1, hi: 0.4, step: 0.1, dec: 1, col: 4, row: 1, top: 178, gx: 2, lx: 90, ly: 42 },
  { name: "Hawaii", actual: hawaiiActual, fit: hawaiiFit, lo: -0.4, hi: 1.0, step: 0.2, dec: 1, col: 0, row: 2, top: 342, gx: 2, lx: 95, ly: 44 },
  { name: "Idaho", actual: idahoActual, fit: idahoFit, lo: -0.2, hi: 0.6, step: 0.1, dec: 1, col: 1, row: 2, top: 342, gx: 18, lx: 94, ly: 41 },
  { name: "Illinois", actual: illinoisActual, fit: illinoisFit, lo: -0.1, hi: 0.5, step: 0.1, dec: 1, col: 2, row: 2, top: 342, gx: 8, lx: 95, ly: 46, dx: 57, dy: 8 },
  { name: "Indiana", actual: indianaActual, fit: indianaFit, lo: -0.1, hi: 0.5, step: 0.1, dec: 1, col: 3, row: 2, top: 342, gx: 13, lx: 94, ly: 43 },
  { name: "Iowa", actual: iowaActual, fit: iowaFit, lo: -0.1, hi: 0.3, step: 0.05, dec: 2, col: 4, row: 2, top: 342, gx: 17, lx: 90, ly: 43 },
  { name: "Kansas", actual: kansasActual, fit: kansasFit, lo: -0.2, hi: 0.4, step: 0.1, dec: 1, col: 0, row: 3, top: 507, gx: 3, lx: 95, ly: 42 },
  { name: "Kentucky", actual: kentuckyActual, fit: kentuckyFit, lo: -0.2, hi: 0.4, step: 0.1, dec: 1, col: 1, row: 3, top: 507, gx: 17, lx: 98, ly: 43 },
  { name: "Louisiana", actual: louisianaActual, fit: louisianaFit, lo: -0.2, hi: 0.5, step: 0.1, dec: 1, col: 2, row: 3, top: 507, gx: 11, lx: 95, ly: 42, dx: 49 },
  { name: "Maine", actual: maineActual, fit: maineFit, lo: -0.2, hi: 0.4, step: 0.1, dec: 1, col: 3, row: 3, top: 507, gx: 13, lx: 93, ly: 44 },
  { name: "Maryland", actual: marylandActual, fit: marylandFit, lo: -0.1, hi: 0.4, step: 0.1, dec: 1, col: 4, row: 3, top: 507, gx: 9, lx: 91, ly: 44 },
  { name: "Massachusetts", actual: massachusettsActual, fit: massachusettsFit, lo: -0.2, hi: 0.5, step: 0.1, dec: 1, col: 0, row: 4, top: 674, gx: 10, lx: 95, ly: 45 },
  { name: "Michigan", actual: michiganActual, fit: michiganFit, lo: -0.2, hi: 0.4, step: 0.1, dec: 1, col: 1, row: 4, top: 674, gx: 16, lx: 94, ly: 45 },
  { name: "Minnesota", actual: minnesotaActual, fit: minnesotaFit, lo: -0.1, hi: 0.25, step: 0.05, dec: 2, col: 2, row: 4, top: 674, gx: 10, lx: 91, ly: 45, dx: 49 },
  { name: "Mississippi", actual: mississippiActual, fit: mississippiFit, lo: -0.1, hi: 0.25, step: 0.05, dec: 2, col: 3, row: 4, top: 674, gx: 13, lx: 92, ly: 45 },
  { name: "Missouri", actual: missouriActual, fit: missouriFit, lo: -0.1, hi: 0.4, step: 0.1, dec: 1, col: 4, row: 4, top: 674, gx: 9, lx: 91, ly: 45 },
];

const serif = "'Liberation Serif', 'Times New Roman', serif";
const sans = "'Liberation Sans', Arial, sans-serif";

const fmt = (v: number, dec: number) => {
  const s = v.toFixed(dec);
  return Number(s) === 0 ? (0).toFixed(dec) : s;
};

function StatePanel({ p }: { p: Panel }) {
  const L = colL[p.col];
  const R = colR[p.col];
  const y0 = rowY0[p.row];
  const B = rowBottom[p.row];
  const x = d3.scaleLinear().domain([1, 126]).range([L, R]);
  const y = d3.scaleLinear().domain([p.lo * 100, p.hi * 100]).range([B, p.top]);
  const nT = Math.round((p.hi - p.lo) / p.step);
  const yTicks = d3.range(0, nT + 1).map((i) => p.lo + i * p.step);

  const band = d3.area<Knot>()
    .x((d) => x(d[0]))
    .y0((d) => y(d[1] - d[2]))
    .y1((d) => y(d[1] + d[2]))(p.fit) || "";
  const line = d3.line<Knot>()
    .x((d) => x(d[0]))
    .y((d) => y(d[1]))(p.fit) || "";

  const lt = R - p.lx; // legend text x
  const la = y0 + p.ly;
  const gX = L + p.gx;
  const gY = y0 + growthDy[p.row];

  return (
    <g>
      <path d={band} fill="#7cfc00" />
      <path d={line} fill="none" stroke="#000" strokeWidth={1} />
      {days.map((d, i) => (
        <circle key={d} cx={x(d)} cy={y(p.actual[i])} r={2.4} fill="#1414e6" />
      ))}
      {/* axes */}
      <line x1={L} x2={L} y1={p.top} y2={B} stroke="#000" strokeWidth={1} />
      <line x1={L} x2={R} y1={B} y2={B} stroke="#000" strokeWidth={1} />
      {yTicks.map((t) => (
        <g key={t}>
          <line x1={L - 3} x2={L} y1={y(t * 100)} y2={y(t * 100)} stroke="#000" />
          <text x={L - 5} y={y(t * 100) + 3} textAnchor="end" fontFamily={serif} fontWeight="bold" fontSize={8.5} fill="#222">
            {fmt(t, p.dec)}
          </text>
        </g>
      ))}
      {xTicks.map((t) => (
        <g key={t}>
          <line x1={x(t)} x2={x(t)} y1={B} y2={B + 3} stroke="#000" />
          <text x={x(t)} y={B + 12} textAnchor="middle" fontFamily={serif} fontWeight="bold" fontSize={8.5} fill="#222">
            {t}
          </text>
        </g>
      ))}
      {/* labels */}
      <text x={gX} y={gY + 4} fontFamily={serif} fontSize={12.5} fill="#444">Growth</text>
      <text x={gX + 10} y={gY + 20} fontFamily={serif} fontSize={12.5} fill="#444">rate</text>
      <text x={R - (p.dx ?? 46)} y={B - 5 - (p.dy ?? 0)} fontFamily={serif} fontSize={12.5} fill="#444">Days</text>
      <text x={R - 21} y={y0 + nameDy[p.row] + 7} textAnchor="end" fontFamily={sans} fontWeight="bold" fontSize={19} fill="#be1e3c">
        {p.name}
      </text>
      {/* legend */}
      <circle cx={lt - 15} cy={la} r={2.4} fill="#1414e6" />
      <text x={lt} y={la + 4} fontFamily={sans} fontWeight="bold" fontSize={11} fill="#111">Actual values</text>
      <line x1={lt - 30} x2={lt - 6} y1={la + 15} y2={la + 15} stroke="#000" strokeWidth={1.2} />
      <text x={lt} y={la + 19} fontFamily={sans} fontWeight="bold" fontSize={11} fill="#111">Fitted values</text>
      <rect x={lt - 25} y={la + 24} width={20} height={12} fill="#7cfc00" stroke="#000" strokeWidth={1} />
      <text x={lt + 12} y={la + 34} fontFamily={sans} fontWeight="bold" fontSize={11} fill="#111">99% C.I.</text>
    </g>
  );
}

export default function App() {
  return (
    <svg width={1440} height={822} style={{ position: "absolute", left: 0, top: 0, background: "#fff" }}>
      <rect width={1440} height={822} fill="#fff" />
      {panels.map((p) => (
        <StatePanel key={p.name} p={p} />
      ))}
    </svg>
  );
}
